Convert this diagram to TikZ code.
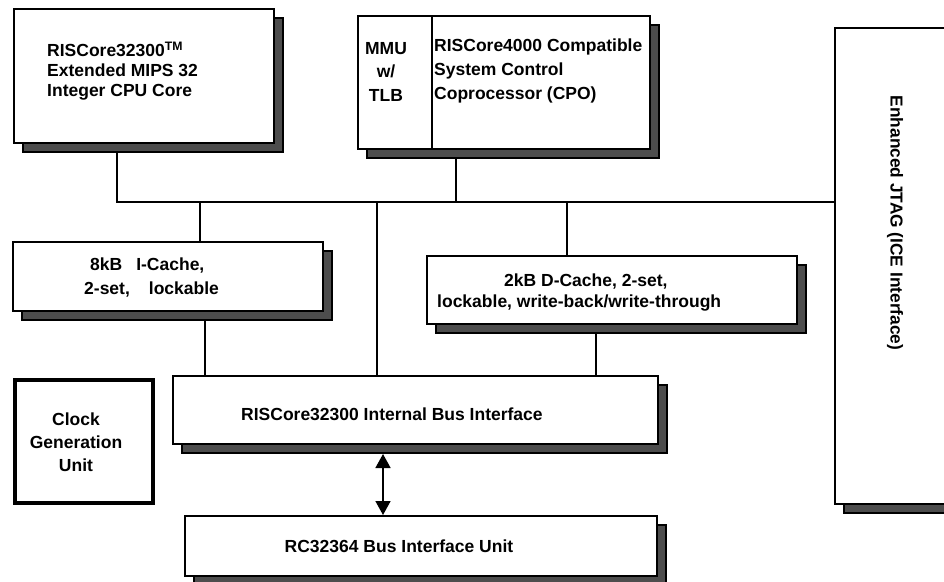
\documentclass[tikz,border=0pt]{standalone}
\usepackage{fontspec}
\setmainfont{Liberation Sans}
\usetikzlibrary{shadows,arrows.meta}
\definecolor{shadowgray}{HTML}{4D4D4D}
\begin{document}
\begin{tikzpicture}[x=1pt,y=-1pt,
  box/.style={draw=black, line width=2pt, fill=white, inner sep=0pt,
    general shadow={shadow xshift=9pt, shadow yshift=-9pt, fill=shadowgray, draw=black, line width=1.5pt}},
  lbl/.style={font=\fontsize{17.5}{20}\selectfont\bfseries, inner sep=0pt},
  wire/.style={line width=1.6pt},
  dbl/.style={line width=1.6pt, {Triangle[length=14pt,width=15pt]}-{Triangle[length=14pt,width=15pt]}}]
\clip (0,0) rectangle (944,581);
\fill[white] (0,0) rectangle (944,581);

% boxes
\node[box, minimum width=260pt, minimum height=134pt] (cpu) at (144,76) {};
\node[box, minimum width=292pt, minimum height=133pt] (mmu) at (504,82.5) {};
\coordinate (mdiv) at (432,0);
\draw[line width=1.6pt] (mmu.north -| mdiv) -- (mmu.south -| mdiv);
\node[box, minimum width=130pt, minimum height=476pt] (jtag) at (900,266) {};
\node[box, minimum width=310pt, minimum height=69pt] (icache) at (168,276.5) {};
\node[box, minimum width=370pt, minimum height=68pt] (dcache) at (612,290) {};
\node[box, minimum width=485pt, minimum height=68pt] (ibi) at (415.5,410) {};
\node[box, minimum width=472pt, minimum height=60pt] (biu) at (421,546) {};
\node[draw=black, line width=4pt, fill=white, minimum width=138pt, minimum height=123pt] (clk) at (84,441.5) {};

% texts
\node[lbl, anchor=north west, align=left] (cput) at (47,42)
  {RISCore32300\textsuperscript{TM}\\Extended MIPS 32\\Integer CPU Core};
\node[lbl, anchor=north, align=center, font=\fontsize{17.5}{23.5}\selectfont\bfseries] (mmut) at (386,42)
  {MMU\\w/\\TLB};
\node[lbl, anchor=north west, align=left, font=\fontsize{17.5}{24}\selectfont\bfseries] (cp0t) at (434,38.5)
  {RISCore4000 Compatible\\System Control\\Coprocessor (CPO)};
\node[lbl, font=\fontsize{17.3}{20}\selectfont\bfseries, rotate=-90] (jtagt) at (895,223) {Enhanced JTAG (ICE Interface)};
\node[lbl, anchor=north west, align=left, font=\fontsize{17.5}{24}\selectfont\bfseries] (ict) at (84,257.5)
  {\hspace*{6pt}8kB\hspace{14pt}I-Cache,\\2-set,\hspace{19pt}lockable};
\node[lbl, anchor=north west, align=left, font=\fontsize{17.5}{21}\selectfont\bfseries] (dct) at (437,273.5)
  {\hspace*{67pt}2kB D-Cache, 2-set,\\lockable, write-back/write-through};
\node[lbl, anchor=base west] (ibit) at (241,420) {RISCore32300 Internal Bus Interface};
\node[lbl, anchor=base] (biut) at (399,552) {RC32364 Bus Interface Unit};
\node[lbl, anchor=north, align=center, font=\fontsize{17.5}{23}\selectfont\bfseries] (clkt) at (76,412.5)
  {Clock\\Generation\\Unit};

% bus
\coordinate (busL) at (117,202);
\coordinate (bI) at (200,202);
\coordinate (bC) at (377,202);
\coordinate (bM) at (456,202);
\coordinate (bD) at (567,202);
\coordinate (iL) at (205,0);
\coordinate (dL) at (596,0);
\coordinate (aX) at (383,0);
\draw[wire] ([yshift=-9pt]cpu.south -| busL) -- (busL) -- (busL -| jtag.west);
\draw[wire] ([yshift=-9pt]mmu.south -| bM) -- (bM);
\draw[wire] (bI) -- (icache.north -| bI);
\draw[wire] (bC) -- (ibi.north -| bC);
\draw[wire] (bD) -- (dcache.north -| bD);
\draw[wire] ([yshift=-9pt]icache.south -| iL) -- (ibi.north -| iL);
\draw[wire] ([yshift=-8pt]dcache.south -| dL) -- (ibi.north -| dL);
\draw[dbl] ([yshift=-9pt]ibi.south -| aX) -- (biu.north -| aX);
\end{tikzpicture}
\end{document}
